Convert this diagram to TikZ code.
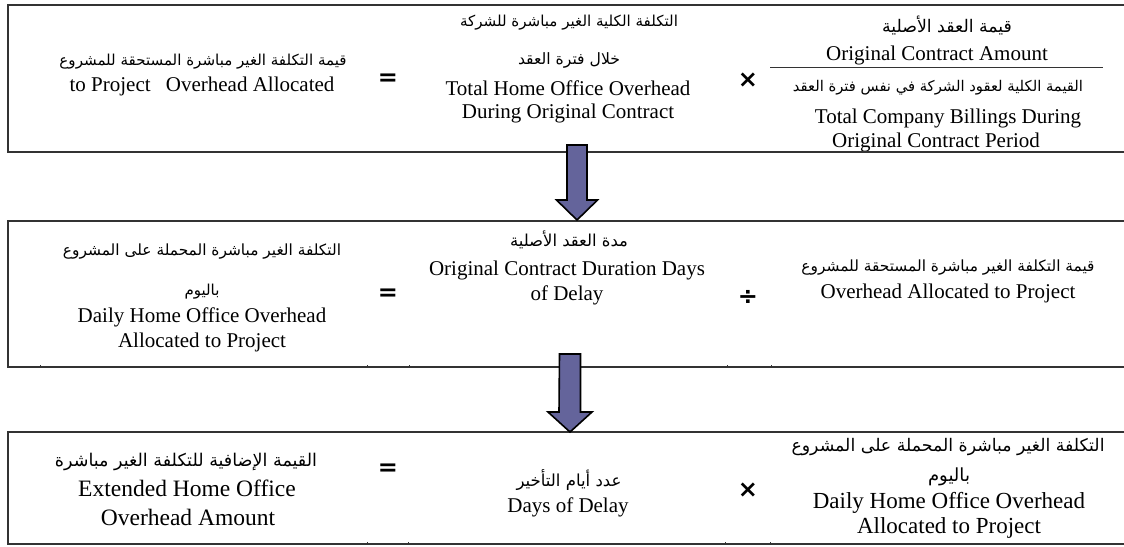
\documentclass[tikz,border=0pt]{standalone}
\usepackage{fontspec}
\usepackage{graphicx}
\setmainfont{Liberation Serif}
\newfontfamily\arabicfont[Script=Arabic]{DejaVu Sans}
\newfontfamily\opfont{DejaVu Sans}
\TeXXeTstate=1
\definecolor{arrowBlue}{RGB}{100,100,155}
\colorlet{boxLine}{black!80}
\newcommand{\artxt}[2]{\resizebox{#1pt}{!}{\arabicfont #2}}

\begin{document}
\begin{tikzpicture}[x = 1pt, y = -1pt,
		en/.style = {inner sep = 0pt, font = \fontsize{21}{25}\selectfont},
		ar/.style = {inner sep = 0pt},
		op/.style = {inner sep = 0pt, font = \opfont\bfseries\fontsize{24}{24}\selectfont},
		box/.style = {draw = boxLine, line width = 1.2pt},
		tick/.style = {draw = boxLine, line width = 0.6pt},
		blockarrow/.style = {draw = black, line width = 1.6pt, fill = arrowBlue, line join = miter}]
		\useasboundingbox (0, 0) rectangle (1124, 546);
		%%%%%%%%%%%%% first row
		\node[ar] (a1) at (203, 62) {\artxt{287}{\beginR قيمة التكلفة الغير مباشرة المستحقة للمشروع\endR}};
		\node[en] (e1) at (202, 86) {to Project\hspace{10pt} Overhead Allocated};
		\node[op] (eq1) at (388, 80) {=};
		\node[ar] (a2) at (569, 23) {\artxt{218}{\beginR التكلفة الكلية الغير مباشرة للشركة\endR}};
		\node[ar] (a3) at (569, 60) {\artxt{102}{\beginR خلال فترة العقد\endR}};
		\node[en] (e2) at (568, 88) {Total Home Office Overhead};
		\node[en] (e3) at (568, 113) {During Original Contract};
		\node[op] (x1) at (748, 80) {×};
		\node[ar] (a4) at (947, 25) {\artxt{130}{\beginR قيمة العقد الأصلية\endR}};
		\node[en] (e4) at (937, 55) {Original Contract Amount};
		\node[ar] (a5) at (938, 88) {\artxt{290}{\beginR القيمة الكلية لعقود الشركة في نفس فترة العقد\endR}};
		\node[en] (e5) at (948, 118) {Total Company Billings During};
		\node[en] (e6) at (936, 142) {Original Contract Period};
		%%%%%%%%%%%%% second row
		\node[ar] (a6) at (202, 252) {\artxt{278}{\beginR التكلفة الغير مباشرة المحملة على المشروع\endR}};
		\node[ar] (a7) at (202, 292) {\artxt{35}{\beginR باليوم\endR}};
		\node[en] (e7) at (202, 317) {Daily Home Office Overhead};
		\node[en] (e8) at (202, 342) {Allocated to Project};
		\node[op] (eq2) at (388, 295) {=};
		\node[ar] (a8) at (569, 240) {\artxt{118}{\beginR مدة العقد الأصلية\endR}};
		\node[en] (e9) at (567, 270) {Original Contract Duration Days};
		\node[en] (e10) at (567, 295) {of Delay};
		\node[op] (d1) at (748, 297) {÷};
		\node[ar] (a9) at (948, 268) {\artxt{293}{\beginR قيمة التكلفة الغير مباشرة المستحقة للمشروع\endR}};
		\node[en] (e11) at (948, 293) {Overhead Allocated to Project};
		%%%%%%%%%%%%% third row
		\node[ar] (a10) at (186, 462) {\artxt{262}{\beginR القيمة الإضافية للتكلفة الغير مباشرة\endR}};
		\node[en, font = \fontsize{23.5}{29}\selectfont] (e12) at (187, 488) {Extended Home Office};
		\node[en, font = \fontsize{23.5}{29}\selectfont] (e13) at (188, 517) {Overhead Amount};
		\node[op] (eq3) at (388, 470) {=};
		\node[ar] (a11) at (569, 480) {\artxt{105}{\beginR عدد أيام التأخير\endR}};
		\node[en] (e14) at (568, 507) {Days of Delay};
		\node[op] (x2) at (748, 490) {×};
		\node[ar] (a12) at (948, 447) {\artxt{313}{\beginR التكلفة الغير مباشرة المحملة على المشروع\endR}};
		\node[ar] (a13) at (949, 477) {\artxt{42}{\beginR باليوم\endR}};
		\node[en, font = \fontsize{23}{25}\selectfont] (e15) at (949, 503) {Daily Home Office Overhead};
		\node[en, font = \fontsize{23}{25}\selectfont] (e16) at (949, 528) {Allocated to Project};
		%%%%%%%%%%%%% boxes
		\draw[box] (1130, 5) -| (8, 152) -- (1130, 152);
		\draw[box] (1130, 221) -| (8, 367) -- (1130, 367);
		\draw[box] (1130, 432) -| (8, 544) -- (1130, 544);
		\draw[box, line width = 1pt] (770, 67) -- (1103, 67);
		\foreach \x in {40, 367, 409, 727, 771} \draw[tick] (\x, 367) -- ++(0, -2.5);
		\foreach \x in {367, 408, 725, 770} \draw[tick] (\x, 544) -- ++(0, -2.5);
		%%%%%%%%%%%%% arrows
		\coordinate (s1) at (577, 145); \coordinate (t1) at (577, 220);
		\coordinate (s2) at (570, 354); \coordinate (t2) at (570, 432);
		\draw[blockarrow] (s1) ++(-10, 0) -- ++(20, 0) -- ++(0, 55) -- ++(10.5, 0) -- (t1) -- ++(-20.5, -20) -- ++(10.5, 0) -- cycle;
		\draw[blockarrow] (s2) ++(-10.5, 0) -- ++(21, 0) -- ++(0, 58) -- ++(11.5, 0) -- (t2) -- ++(-22, -20) -- ++(11, 0) -- cycle;
\end{tikzpicture}
\end{document}
